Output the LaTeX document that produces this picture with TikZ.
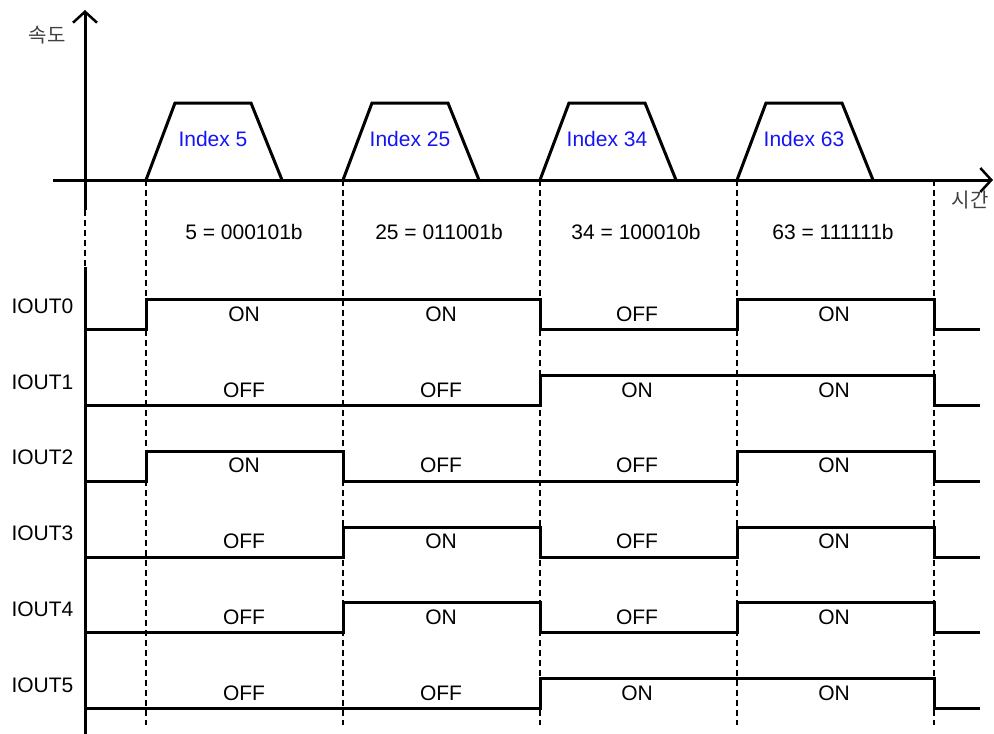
\documentclass[tikz,border=0pt]{standalone}
\usepackage{fontspec}
\setmainfont{Liberation Sans}
\newfontfamily\krfont{Noto Sans CJK KR}
\usepackage{xcolor}
\usepackage{tikz}
\usetikzlibrary{arrows.meta}
\definecolor{idxblue}{RGB}{20,20,245}

\tikzset{
  sig/.style={line width=3pt, line join=miter},
  guide/.style={line width=1.5pt, dash pattern=on 6pt off 4pt},
  axis/.style={line width=3pt, -{Straight Barb[length=11pt,width=24pt,line width=2.5pt]}},
  kr/.style={black!75, font=\krfont\fontsize{20}{23}\selectfont},
}

\begin{document}
\begin{tikzpicture}[x=1pt, y=-1pt, font=\fontsize{21}{25}\selectfont]
  \useasboundingbox (0,0) rectangle (994,734);
  % axes
  \draw[axis] (85,210) -- (85,10);
  \draw[guide] (85,210) -- (85,267);
  \draw[line width=3pt] (85,267) -- (85,734);
  \draw[axis] (53,180) -- (993,180);
  \node[kr] (vlabel) at (47,35) {속도};
  \node[kr] (tlabel) at (970,200) {시간};
  % time marks
  \foreach \x in {146,343,540,737,934}
    \draw[guide] (\x,180) -- (\x,725);
  % velocity profiles
  \foreach \s/\n in {146/5,343/25,540/34,737/63} {
    \draw[line width=3pt, line join=miter] (\s,180) -- (\s+29,103) -- (\s+105,103) -- (\s+136,180);
    \node[idxblue] (idx\n) at (\s+67,139) {Index \n};
  }
  \node (bin5)  at (244,232) {5 = 000101b};
  \node (bin25) at (439,232) {25 = 011001b};
  \node (bin34) at (636,232) {34 = 100010b};
  \node (bin63) at (833,232) {63 = 111111b};
  % outputs
  \draw[sig] (85,329) -| (146,299) -| (540,329) -| (737,299) -| (934,329) -- (980,329);
  \draw[sig] (85,405) -| (540,375) -| (934,405) -- (980,405);
  \draw[sig] (85,481) -| (146,451) -| (343,481) -| (737,451) -| (934,481) -- (980,481);
  \draw[sig] (85,557) -| (343,527) -| (540,557) -| (737,527) -| (934,557) -- (980,557);
  \draw[sig] (85,632) -| (343,602) -| (540,632) -| (737,602) -| (934,632) -- (980,632);
  \draw[sig] (85,708) -| (540,678) -| (934,708) -- (980,708);
  \foreach \r/\a/\b/\c/\d in {0/ON/ON/OFF/ON, 1/OFF/OFF/ON/ON, 2/ON/OFF/OFF/ON,
                             3/OFF/ON/OFF/ON, 4/OFF/ON/OFF/ON, 5/OFF/OFF/ON/ON} {
    \pgfmathsetmacro\lo{329+75.8*\r}
    \node[anchor=west] (iout\r) at (8,\lo-23) {IOUT\r};
    \node (st\r a) at (244,\lo-15) {\a};
    \node (st\r b) at (441,\lo-15) {\b};
    \node (st\r c) at (637,\lo-15) {\c};
    \node (st\r d) at (834,\lo-15) {\d};
  }
\end{tikzpicture}
\end{document}
